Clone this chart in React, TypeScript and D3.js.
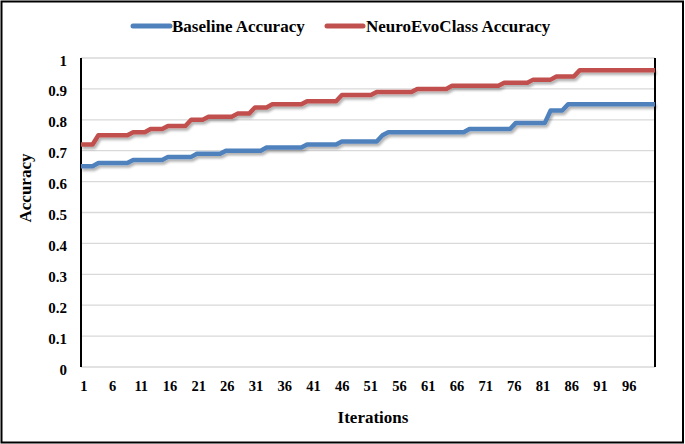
import React, { useEffect, useRef } from "react";
import * as d3 from "d3";

// iteration numbers 1..100 (category axis)
const iterations: number[] = d3.range(1, 101);

const xTickLabels = [1, 6, 11, 16, 21, 26, 31, 36, 41, 46, 51, 56, 61, 66, 71, 76, 81, 86, 91, 96];
const yTicks = [0, 0.1, 0.2, 0.3, 0.4, 0.5, 0.6, 0.7, 0.8, 0.9, 1];

const baselineAccuracy = [
    0.65, 0.65, 0.65, 0.66, 0.66, 0.66, 0.66, 0.66, 0.66, 0.67,
    0.67, 0.67, 0.67, 0.67, 0.67, 0.68, 0.68, 0.68, 0.68, 0.68,
    0.69, 0.69, 0.69, 0.69, 0.69, 0.70, 0.70, 0.70, 0.70, 0.70,
    0.70, 0.70, 0.71, 0.71, 0.71, 0.71, 0.71, 0.71, 0.71, 0.72,
    0.72, 0.72, 0.72, 0.72, 0.72, 0.73, 0.73, 0.73, 0.73, 0.73,
    0.73, 0.73, 0.75, 0.76, 0.76, 0.76, 0.76, 0.76, 0.76, 0.76,
    0.76, 0.76, 0.76, 0.76, 0.76, 0.76, 0.76, 0.77, 0.77, 0.77,
    0.77, 0.77, 0.77, 0.77, 0.77, 0.79, 0.79, 0.79, 0.79, 0.79,
    0.79, 0.83, 0.83, 0.83, 0.85, 0.85, 0.85, 0.85, 0.85, 0.85,
    0.85, 0.85, 0.85, 0.85, 0.85, 0.85, 0.85, 0.85, 0.85, 0.85,
];

const neuroEvoAccuracy = [
    0.72, 0.72, 0.72, 0.75, 0.75, 0.75, 0.75, 0.75, 0.75, 0.76,
    0.76, 0.76, 0.77, 0.77, 0.77, 0.78, 0.78, 0.78, 0.78, 0.80,
    0.80, 0.80, 0.81, 0.81, 0.81, 0.81, 0.81, 0.82, 0.82, 0.82,
    0.84, 0.84, 0.84, 0.85, 0.85, 0.85, 0.85, 0.85, 0.85, 0.86,
    0.86, 0.86, 0.86, 0.86, 0.86, 0.88, 0.88, 0.88, 0.88, 0.88,
    0.88, 0.89, 0.89, 0.89, 0.89, 0.89, 0.89, 0.89, 0.90, 0.90,
    0.90, 0.90, 0.90, 0.90, 0.91, 0.91, 0.91, 0.91, 0.91, 0.91,
    0.91, 0.91, 0.91, 0.92, 0.92, 0.92, 0.92, 0.92, 0.93, 0.93,
    0.93, 0.93, 0.94, 0.94, 0.94, 0.94, 0.96, 0.96, 0.96, 0.96,
    0.96, 0.96, 0.96, 0.96, 0.96, 0.96, 0.96, 0.96, 0.96, 0.96,
];

const series = [
    { name: "Baseline Accuracy", values: baselineAccuracy, color: "#4f81bd" },
    { name: "NeuroEvoClass Accuracy", values: neuroEvoAccuracy, color: "#c0504d" },
];

const FONT = "'Liberation Serif', 'Times New Roman', serif";

const App: React.FC = () => {
    const ref = useRef<SVGSVGElement>(null);

    useEffect(() => {
        const svg = d3.select(ref.current);
        svg.selectAll("*").remove();

        const width = 685;
        const height = 444;
        const left = 81, right = 655, top = 58, bottom = 367;

        // outer chart border
        svg.append("rect")
            .attr("x", 1.5).attr("y", 1.5)
            .attr("width", width - 3.5).attr("height", height - 3)
            .attr("fill", "#fff").attr("stroke", "#000").attr("stroke-width", 2);

        const defs = svg.append("defs");
        defs.append("filter")
            .attr("id", "shadow")
            .attr("x", "-5%").attr("y", "-20%").attr("width", "110%").attr("height", "150%")
            .append("feDropShadow")
            .attr("dx", 1.5).attr("dy", 2.5).attr("stdDeviation", 1.2)
            .attr("flood-color", "#000").attr("flood-opacity", 0.3);

        const xLine = d3.scalePoint<number>().domain(iterations).range([left, right]);
        const xBand = d3.scaleBand<number>().domain(iterations).range([left, right]);
        const y = d3.scaleLinear().domain([0, 1]).range([bottom, top]);

        // gridlines
        svg.append("g")
            .selectAll("line")
            .data(yTicks)
            .enter()
            .append("line")
            .attr("x1", left).attr("x2", right)
            .attr("y1", (d) => y(d)).attr("y2", (d) => y(d))
            .attr("stroke", "#d9d9d9").attr("stroke-width", 1.3);

        // y tick labels
        svg.append("g")
            .selectAll("text")
            .data(yTicks)
            .enter()
            .append("text")
            .attr("x", 67)
            .attr("y", (d) => y(d) + 7.5)
            .attr("text-anchor", "end")
            .style("font-family", FONT).style("font-weight", "bold").style("font-size", "15px")
            .text((d) => String(d));

        // x tick labels
        svg.append("g")
            .selectAll("text")
            .data(xTickLabels)
            .enter()
            .append("text")
            .attr("x", (d) => xBand(d)! + xBand.bandwidth() / 2)
            .attr("y", 391)
            .attr("text-anchor", "middle")
            .style("font-family", FONT).style("font-weight", "bold").style("font-size", "14.5px")
            .text((d) => String(d));

        // axis lines
        svg.append("line")
            .attr("x1", left).attr("x2", left).attr("y1", top).attr("y2", bottom)
            .attr("stroke", "#000").attr("stroke-width", 2);
        svg.append("line")
            .attr("x1", right).attr("x2", right).attr("y1", top).attr("y2", bottom)
            .attr("stroke", "#000").attr("stroke-width", 2);

        // series lines
        const line = d3.line<number>()
            .x((_, i) => xLine(iterations[i])!)
            .y((d) => y(d));

        series.forEach((s) => {
            svg.append("path")
                .attr("d", line(s.values))
                .attr("fill", "none")
                .attr("stroke", s.color)
                .attr("stroke-width", 4.5)
                .attr("stroke-linejoin", "round")
                .attr("filter", "url(#shadow)");
        });

        // legend
        const legend = [
            { x1: 133, x2: 170, tx: 172 },
            { x1: 327, x2: 363, tx: 366 },
        ];
        series.forEach((s, i) => {
            const l = legend[i];
            svg.append("line")
                .attr("x1", l.x1).attr("x2", l.x2).attr("y1", 26).attr("y2", 26)
                .attr("stroke", s.color).attr("stroke-width", 5).attr("stroke-linecap", "round");
            svg.append("text")
                .attr("x", l.tx).attr("y", 32)
                .style("font-family", FONT).style("font-weight", "bold").style("font-size", "17px")
                .text(s.name);
        });

        // axis titles
        svg.append("text")
            .attr("x", 373).attr("y", 423)
            .attr("text-anchor", "middle")
            .style("font-family", FONT).style("font-weight", "bold").style("font-size", "17px")
            .text("Iterations");
        svg.append("text")
            .attr("transform", "translate(31,188) rotate(-90)")
            .attr("text-anchor", "middle")
            .style("font-family", FONT).style("font-weight", "bold").style("font-size", "17px")
            .text("Accuracy");
    }, []);

    return (
        <svg
            ref={ref}
            width={685}
            height={444}
            style={{ position: "absolute", left: 0, top: 0 }}
        ></svg>
    );
};

export default App;
